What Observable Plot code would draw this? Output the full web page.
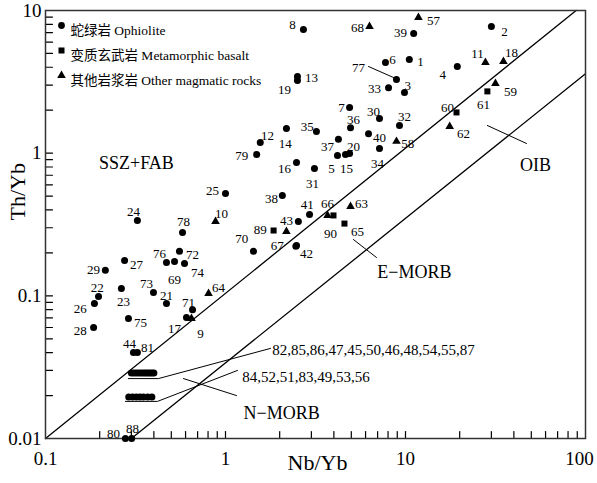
<!DOCTYPE html>
<html>
<head>
<meta charset="utf-8">
<script src="https://cdn.jsdelivr.net/npm/d3@7"></script>
<script src="https://cdn.jsdelivr.net/npm/@observablehq/plot@0.6"></script>
<style>
  html, body { margin: 0; padding: 0; background: #fff; }
</style>
</head>
<body>
<div id="chart"></div>
<script>
// ---------- DATA (Nb/Yb, Th/Yb) ----------
const ophiolite = [
  ["1", 10.5, 4.54], ["2", 30.0, 7.72], ["3", 9.87, 2.66], ["4", 19.4, 4.05],
  ["5", 4.19, 0.963], ["6", 7.74, 4.32], ["7", 4.89, 2.09], ["8", 2.71, 7.36],
  ["12", 1.56, 1.19], ["13", 2.51, 3.44], ["14", 2.18, 1.49], ["15", 4.64, 0.979],
  ["16", 2.48, 0.860], ["17", 0.607, 0.0705], ["19", 2.51, 3.23], ["20", 4.89, 0.995],
  ["21", 0.470, 0.0883], ["22", 0.197, 0.0988], ["23", 0.264, 0.1126], ["24", 0.324, 0.337],
  ["25", 1.00, 0.521], ["26", 0.187, 0.0883], ["27", 0.275, 0.177], ["28", 0.185, 0.060],
  ["29", 0.215, 0.151], ["30", 7.17, 1.75], ["31", 3.12, 0.782], ["32", 9.26, 1.56],
  ["33", 8.05, 2.88], ["34", 7.17, 1.08], ["35", 3.20, 1.42], ["36", 4.95, 1.51],
  ["37", 4.24, 1.25], ["38", 2.07, 0.505], ["39", 11.1, 6.90], ["40", 6.23, 1.37],
  ["41", 2.93, 0.372], ["42", 2.48, 0.2255], ["43", 2.54, 0.332], ["44", 0.308, 0.040],
  ["67", 2.46, 0.223], ["69", 0.521, 0.174], ["70", 1.43, 0.205], ["71", 0.656, 0.080],
  ["72", 0.555, 0.205], ["73", 0.398, 0.1054], ["74", 0.592, 0.1686], ["75", 0.289, 0.0693],
  ["76", 0.470, 0.1714], ["77", 8.91, 3.28], ["78", 0.577, 0.278], ["79", 1.49, 0.979],
  ["80", 0.278, 0.01], ["81", 0.324, 0.040], ["88", 0.301, 0.01]
];
const rowAIds = ["82", "85", "86", "47", "45", "50", "46", "48", "54", "55", "87"];
const rowANb  = [0.300, 0.310, 0.320, 0.330, 0.340, 0.350, 0.360, 0.370, 0.380, 0.390, 0.400];
const rowATh  = 0.0288;
const rowBIds = ["84", "52", "51", "83", "49", "53", "56"];
const rowBNb  = [0.290, 0.305, 0.320, 0.335, 0.350, 0.370, 0.390];
const rowBTh  = 0.0195;
const metabasalt = [
  ["60", 19.2, 1.93], ["61", 28.5, 2.71], ["65", 4.58, 0.321], ["89", 1.85, 0.287], ["90", 3.98, 0.366]
];
const otherRocks = [
  ["9", 0.647, 0.0693], ["10", 0.880, 0.332], ["11", 27.8, 4.32], ["18", 35.0, 4.39],
  ["57", 11.8, 8.93], ["58", 8.91, 1.21], ["59", 31.6, 3.08], ["62", 17.6, 1.54],
  ["63", 4.95, 0.423], ["64", 0.805, 0.1037], ["66", 3.69, 0.366], ["68", 6.31, 7.72],
  ["", 2.18, 0.282]
];
const pointLabels = [
  ["1", 12.1, 4.39], ["2", 35.5, 7.12], ["3", 10.3, 2.98], ["4", 16.1, 3.56],
  ["5", 3.88, 0.781], ["6", 8.47, 4.54], ["7", 4.41, 2.09], ["8", 2.36, 7.98],
  ["9", 0.726, 0.0544], ["10", 0.950, 0.378], ["11", 25.1, 4.99], ["12", 1.71, 1.33],
  ["13", 3.00, 3.39], ["14", 2.15, 1.17], ["15", 4.70, 0.781], ["16", 2.13, 0.781],
  ["17", 0.521, 0.0590], ["18", 38.8, 5.08], ["19", 2.13, 2.80], ["20", 5.14, 1.11],
  ["21", 0.470, 0.1005], ["22", 0.194, 0.1144], ["23", 0.271, 0.0913], ["24", 0.308, 0.390],
  ["25", 0.847, 0.547], ["26", 0.156, 0.0815], ["27", 0.320, 0.166], ["28", 0.156, 0.0571],
  ["29", 0.185, 0.153], ["30", 6.64, 1.96], ["31", 3.04, 0.613], ["32", 9.87, 1.81],
  ["33", 6.73, 2.84], ["34", 6.99, 0.846], ["35", 2.85, 1.54], ["36", 5.14, 1.72],
  ["37", 3.69, 1.11], ["38", 1.80, 0.481], ["39", 9.38, 7.01], ["40", 7.17, 1.29],
  ["41", 2.85, 0.437], ["42", 2.82, 0.198], ["43", 2.18, 0.337], ["44", 0.293, 0.0463],
  ["57", 14.3, 8.51], ["58", 10.3, 1.17], ["59", 38.3, 2.71], ["60", 17.1, 2.09],
  ["61", 27.1, 2.19], ["62", 21.0, 1.37], ["63", 5.70, 0.444], ["64", 0.914, 0.1144],
  ["65", 5.41, 0.282], ["66", 3.69, 0.444], ["67", 1.94, 0.225], ["68", 5.41, 7.60],
  ["69", 0.521, 0.130], ["70", 1.23, 0.252], ["71", 0.623, 0.0898], ["72", 0.656, 0.195],
  ["73", 0.364, 0.122], ["74", 0.699, 0.146], ["75", 0.337, 0.0650], ["76", 0.430, 0.198],
  ["77", 5.48, 3.99], ["78", 0.584, 0.332], ["79", 1.23, 0.963], ["80", 0.239, 0.01084],
  ["81", 0.369, 0.0434], ["88", 0.304, 0.01175], ["89", 1.56, 0.292], ["90", 3.83, 0.274]
];
const groupLabels = [
  ["82,85,86,47,45,50,46,48,54,55,87", 1.82, 0.0414],
  ["84,52,51,83,49,53,56", 1.24, 0.0268]
];
const fieldLabels = [
  ["SSZ+FAB", 0.320, 0.846], ["OIB", 52.7, 0.820], ["E\u2212MORB", 11.2, 0.146], ["N\u2212MORB", 2.05, 0.01497]
];
const upperBound = [[0.1, 0.01], [88.7, 10]];
const lowerBound = [[0.30, 0.01], [100, 3.6]];
const leaders = [
  [[0.289, 0.0263], [0.424, 0.0263], [1.778, 0.0428]],
  [[0.278, 0.0182], [0.419, 0.0182], [1.166, 0.0300]],
  [[0.584, 0.0263], [1.151, 0.0200]],
  [[5.14, 0.248], [6.90, 0.1857]],
  [[28.5, 1.563], [47.0, 1.169]],
  [[6.23, 4.05], [8.58, 3.39]]
];
const xTickLabels = [0.1, 1, 10];
const xLastLabel = [100];
const yTickLabels = [0.01, 0.1, 1, 10];
const xTicks = [0.2,0.3,0.4,0.5,0.6,0.7,0.8,0.9,1,2,3,4,5,6,7,8,9,10,20,30,40,50,60,70,80,90];
const yTicks = [0.02,0.03,0.04,0.05,0.06,0.07,0.08,0.09,0.1,0.2,0.3,0.4,0.5,0.6,0.7,0.8,0.9,1,2,3,4,5,6,7,8,9];
const legendItems = [
  ["circle", "蛇绿岩 Ophiolite"],
  ["square", "变质玄武岩 Metamorphic basalt"],
  ["triangle", "其他岩浆岩 Other magmatic rocks"]
];

// ---------- BUILD ----------
const toPts = arr => arr.map(([id, nb, th]) => ({id, nb, th}));
const circles = [
  ...toPts(ophiolite),
  ...rowAIds.map((id, i) => ({id, nb: rowANb[i], th: rowATh})),
  ...rowBIds.map((id, i) => ({id, nb: rowBNb[i], th: rowBTh}))
];
const squares = toPts(metabasalt);
const triangles = toPts(otherRocks);
const toLines = segs => segs.flatMap((seg, k) => seg.map(([nb, th]) => ({k, nb, th})));
const boundData = toLines([upperBound, lowerBound]);
const leaderData = toLines(leaders);
const lab = arr => arr.map(([text, nb, th]) => ({text, nb, th}));

const serif = "Liberation Serif, Times New Roman, serif";
const legendFont = "Liberation Serif, Noto Sans CJK SC, serif";
const W = 597, H = 483, mL = 45, mR = 12, mT = 10, mB = 45;
const tickLen = 7;

const legendMarks = legendItems.flatMap(([sym, txt], i) => [
  Plot.dot([0], {x: null, y: null, frameAnchor: "top-left", dx: 16, dy: 15 + 25 * i,
    symbol: sym, r: sym === "triangle" ? 3.2 : 3.4, fill: "black", stroke: "none"}),
  Plot.text([txt], {x: null, y: null, frameAnchor: "top-left", dx: 25, dy: 15 + 25 * i,
    textAnchor: "start", fontSize: 13.5, fontFamily: legendFont, fill: "black"})
]);

// inward ticks via vector marks anchored at frame edges
const tickShapeUp = {draw(context, l) { context.moveTo(0, 0); context.lineTo(0, -l); }};
const tickShapeRight = {draw(context, l) { context.moveTo(0, 0); context.lineTo(l, 0); }};

const chart = Plot.plot({
  width: W, height: H,
  marginLeft: mL, marginRight: mR, marginTop: mT, marginBottom: mB,
  style: {fontFamily: serif, background: "white", color: "black", overflow: "visible"},
  x: {type: "log", domain: [0.1, 100]},
  y: {type: "log", domain: [0.01, 10]},
  marks: [
    Plot.line(boundData, {x: "nb", y: "th", z: "k", stroke: "black", strokeWidth: 1.3}),
    Plot.line(leaderData, {x: "nb", y: "th", z: "k", stroke: "black", strokeWidth: 1}),
    Plot.vector(xTicks, {x: d => d, y: null, frameAnchor: "bottom", length: tickLen, anchor: "start",
      shape: tickShapeUp, stroke: "black", strokeWidth: 1.2}),
    Plot.vector(yTicks, {x: null, y: d => d, frameAnchor: "left", length: tickLen, anchor: "start",
      shape: tickShapeRight, stroke: "black", strokeWidth: 1.2}),
    Plot.axisX(xTickLabels, {tickSize: 0, tickPadding: 13, fontSize: 19, fontFamily: serif,
      tickFormat: d => String(d), label: null}),
    Plot.axisX(xLastLabel, {tickSize: 0, tickPadding: 13, dx: -6, fontSize: 19, fontFamily: serif,
      tickFormat: d => String(d), label: null}),
    Plot.axisY(yTickLabels, {tickSize: 0, tickPadding: 4, fontSize: 19, fontFamily: serif,
      tickFormat: d => String(d), label: null}),
    Plot.frame({stroke: "#333", strokeWidth: 1.5}),
    Plot.dot(circles, {x: "nb", y: "th", symbol: "circle", r: 3.5, fill: "black", stroke: "none"}),
    Plot.dot(squares, {x: "nb", y: "th", symbol: "square", r: 3.4, fill: "black", stroke: "none"}),
    Plot.dot(triangles, {x: "nb", y: "th", symbol: "triangle", r: 3.2, fill: "black", stroke: "none"}),
    Plot.text(lab(pointLabels), {x: "nb", y: "th", text: "text", fontSize: 13, fill: "black"}),
    Plot.text(lab(groupLabels), {x: "nb", y: "th", text: "text", textAnchor: "start", fontSize: 15, fill: "black"}),
    Plot.text(lab(fieldLabels), {x: "nb", y: "th", text: "text", fontSize: 18, fill: "black"}),
    ...legendMarks,
    Plot.text(["Th/Yb"], {x: null, y: null, frameAnchor: "left", dx: -28, dy: -4, rotate: -90, fontSize: 22, fill: "black"}),
    Plot.text(["Nb/Yb"], {x: null, y: null, frameAnchor: "bottom", dx: 2, dy: 31, fontSize: 22, fill: "black"})
  ]
});
document.getElementById("chart").appendChild(chart);
</script>
</body>
</html>
